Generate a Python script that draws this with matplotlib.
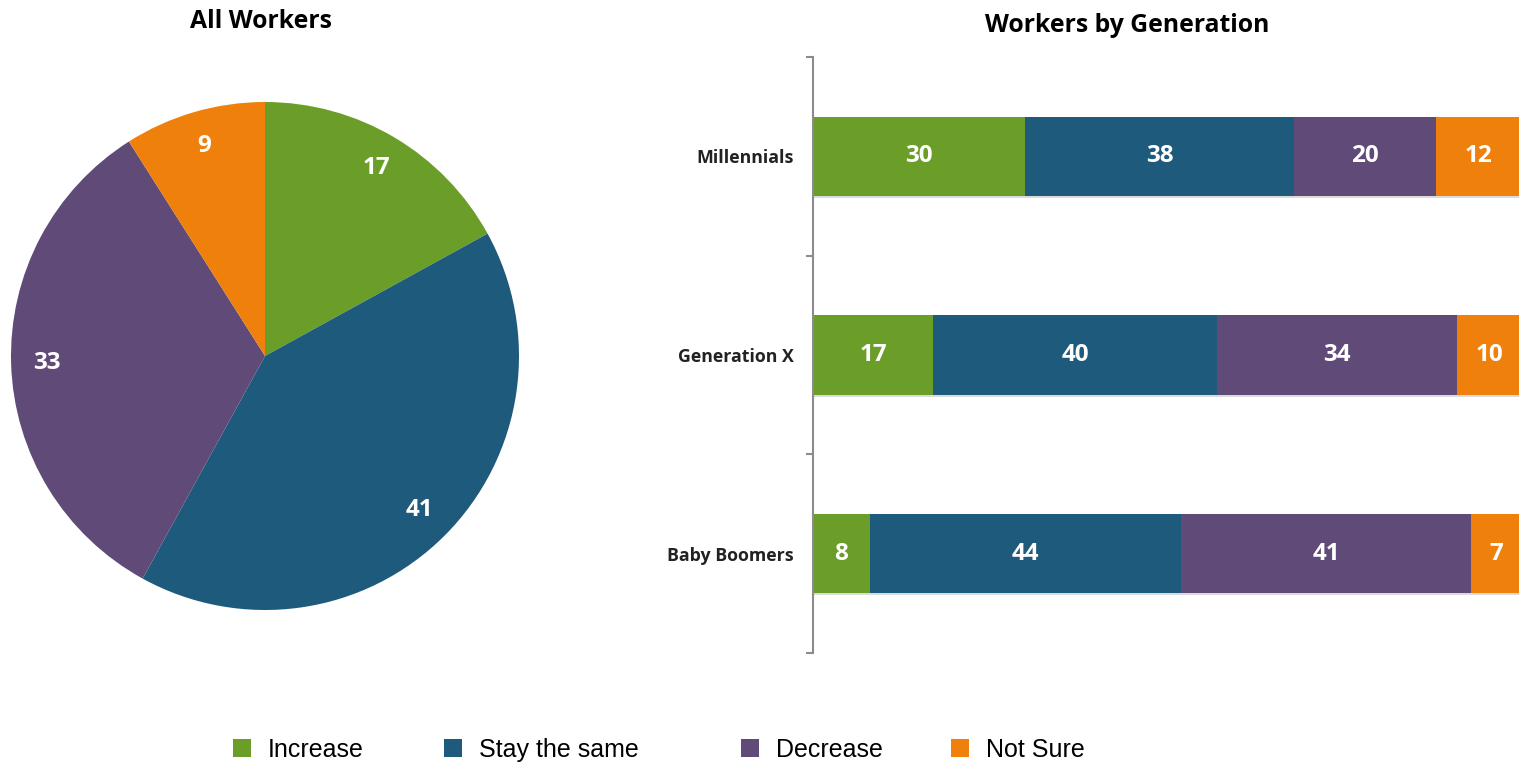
import matplotlib
matplotlib.use("Agg")
import matplotlib.pyplot as plt
import matplotlib.patheffects as pe
from matplotlib.patches import Patch

plt.rcParams['font.family'] = ['Open Sans', 'DejaVu Sans']

responses = ["Increase", "Stay the same", "Decrease", "Not Sure"]
colors = ["#6B9E28", "#1E5A7B", "#5F4A78", "#F0800C"]

all_workers = [17, 41, 33, 9]

generations = ["Millennials", "Generation X", "Baby Boomers"]
increase = [30, 17, 8]
stay_same = [38, 40, 44]
decrease = [20, 34, 41]
not_sure = [12, 10, 7]

W, H = 1519, 764
fig = plt.figure(figsize=(W / 100, H / 100), dpi=100)

# pie chart
r_px = 254
ax1 = fig.add_axes([(265 - r_px) / W, (H - 356 - r_px) / H, 2 * r_px / W, 2 * r_px / H])
wedges, texts = ax1.pie(all_workers, colors=colors, startangle=90, counterclock=False,
                        labels=[str(v) for v in all_workers], labeldistance=0.86,
                        wedgeprops=dict(linewidth=0),
                        textprops=dict(color="white", fontweight="bold", fontsize=17.5,
                                       ha="center", va="center"))
ax1.set_xlim(-1, 1)
ax1.set_ylim(-1, 1)
ax1.set_aspect("equal")
fig.text(261 / W, 1 - 21 / H, "All Workers", ha="center", va="center",
         fontsize=17.8, fontweight="bold")

# stacked bar chart
ax2 = fig.add_axes([813 / W, (H - 653) / H, 708 / W, 596 / H])
y = list(range(len(generations)))
left = [0, 0, 0]
shadow = [pe.SimplePatchShadow(offset=(1, -1.5), shadow_rgbFace="#8a8a8a", alpha=0.3), pe.Normal()]
for name, vals, c in zip(responses, [increase, stay_same, decrease, not_sure], colors):
    bars = ax2.barh(y, vals, left=left, height=0.4, color=c, linewidth=0, label=name)
    for b in bars:
        b.set_path_effects(shadow)
    ax2.bar_label(bars, labels=[str(v) for v in vals], label_type="center",
                  color="white", fontweight="bold", fontsize=17.5)
    left = [l + v for l, v in zip(left, vals)]

ax2.set_xlim(0, 100)
ax2.set_ylim(2.5, -0.5)
for s in ["top", "right", "bottom"]:
    ax2.spines[s].set_visible(False)
ax2.spines["left"].set_color("#8c8c8c")
ax2.spines["left"].set_linewidth(1.5)
ax2.set_xticks([])
ax2.set_yticks([-0.5, 0.5, 1.5, 2.5])
ax2.set_yticklabels([])
ax2.tick_params(axis="y", which="major", length=5, width=1.5, color="#8c8c8c")
ax2.set_yticks(y, minor=True)
ax2.set_yticklabels(generations, minor=True, fontsize=12.8, fontweight="bold", color="#222222")
ax2.tick_params(axis="y", which="minor", length=0, pad=14)
fig.text(1127 / W, 1 - 26 / H, "Workers by Generation", ha="center", va="center",
         fontsize=17.8, fontweight="bold")

# legend
leg_x = [233, 444, 741, 951]
for name, c, x in zip(responses, colors, leg_x):
    fig.legend(handles=[Patch(facecolor=c, edgecolor="none", label=name)],
               loc="center left", bbox_to_anchor=(x / W, 1 - 750 / H),
               frameon=False, borderpad=0, borderaxespad=0,
               handlelength=0.72, handleheight=0.72, handletextpad=0.68,
               prop=dict(family="Liberation Sans", size=18))

fig.savefig("out.png", dpi=100)
